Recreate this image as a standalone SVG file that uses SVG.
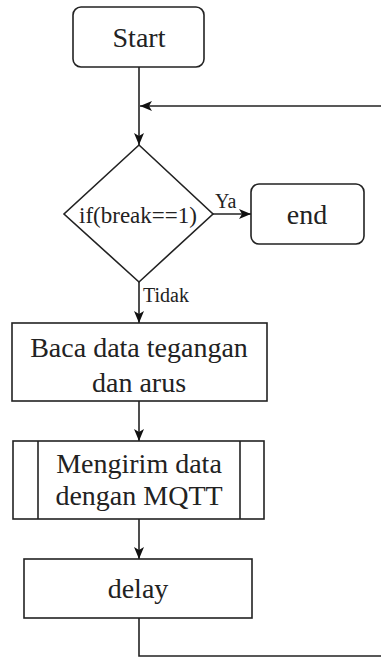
<svg xmlns="http://www.w3.org/2000/svg" width="381" height="658" viewBox="0 0 381 658">
<style>
.shape{fill:#fff;stroke:#222;stroke-width:1.6}
.t{font-family:'Liberation Serif','DejaVu Serif',serif;font-size:28px;fill:#222;text-anchor:middle}
.d{font-size:23px}
.lbl{font-family:'Liberation Serif','DejaVu Serif',serif;font-size:20px;fill:#222}
.edge{fill:none;stroke:#222;stroke-width:1.6}
</style>
<defs>
<marker id="ah" viewBox="0 0 12 10" refX="12" refY="5" markerWidth="12" markerHeight="10" markerUnits="userSpaceOnUse" orient="auto">
<path d="M0,0 L12,5 L0,10 L3,5 Z" fill="#111"/>
</marker>
</defs>
<rect width="381" height="658" fill="#fff"/>
<g id="connectors">
<path class="edge" d="M139,67 V145" marker-end="url(#ah)"/>
<path class="edge" d="M385,106 H140" marker-end="url(#ah)"/>
<path class="edge" d="M213,214 H251" marker-end="url(#ah)"/>
<path class="edge" d="M139,282 V323" marker-end="url(#ah)"/>
<path class="edge" d="M139,401 V441" marker-end="url(#ah)"/>
<path class="edge" d="M139,519 V559" marker-end="url(#ah)"/>
<path class="edge" d="M139,618 V656 H385"/>
<text class="lbl" x="215" y="208" font-family="Liberation Serif">Ya</text>
<text class="lbl" x="143" y="302" font-family="Liberation Serif">Tidak</text>
</g>
<g id="start">
<rect class="shape" x="73" y="7" width="131" height="60" rx="8"/>
<text class="t" x="139" y="47" font-family="Liberation Serif">Start</text>
</g>
<g id="decision">
<polygon class="shape" points="139,145 213,214 139,282 64,214"/>
<text class="t d" x="138" y="223" font-family="Liberation Serif">if(break==1)</text>
</g>
<g id="end">
<rect class="shape" x="251" y="184" width="113" height="60" rx="8"/>
<text class="t" x="307" y="224" font-family="Liberation Serif">end</text>
</g>
<g id="baca">
<rect class="shape" x="12" y="323" width="255" height="78"/>
<text class="t" x="139" y="357" font-family="Liberation Serif">Baca data tegangan</text>
<text class="t" x="139" y="392" font-family="Liberation Serif">dan arus</text>
</g>
<g id="mqtt">
<rect class="shape" x="13" y="441" width="251" height="78"/>
<line class="shape" x1="38" y1="441" x2="38" y2="519"/>
<line class="shape" x1="240" y1="441" x2="240" y2="519"/>
<text class="t" x="139" y="473" font-family="Liberation Serif">Mengirim data</text>
<text class="t" x="139" y="505" font-family="Liberation Serif">dengan MQTT</text>
</g>
<g id="delay">
<rect class="shape" x="24" y="559" width="228" height="59"/>
<text class="t" x="138" y="598" font-family="Liberation Serif">delay</text>
</g>
</svg>
